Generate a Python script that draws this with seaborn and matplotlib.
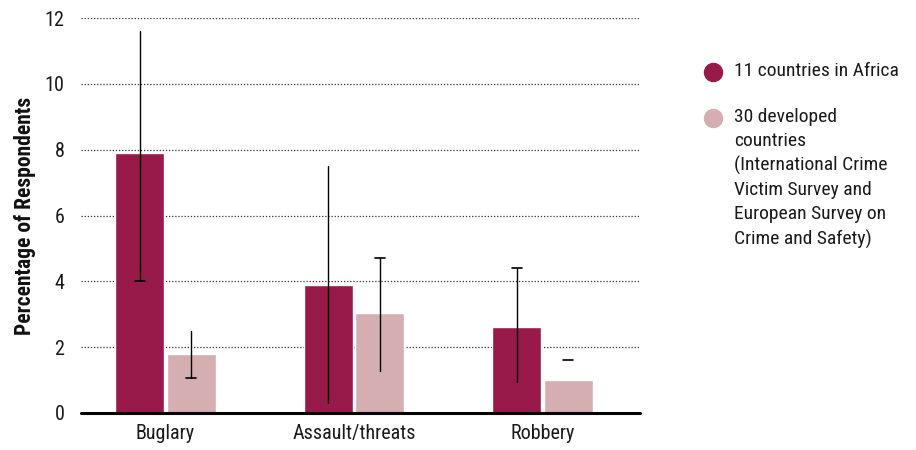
import numpy as np
import pandas as pd
import matplotlib
matplotlib.use("Agg")
import matplotlib.pyplot as plt
import seaborn as sns
from matplotlib.lines import Line2D

# Data
categories = ["Buglary", "Assault/threats", "Robbery"]
groups = ["11 countries in Africa",
          "30 developed\ncountries\n(International Crime\nVictim Survey and\nEuropean Survey on\nCrime and Safety)"]
africa = [7.9, 3.9, 2.6]
developed = [1.8, 3.05, 1.0]
africa_low = [4.0, 0.3, 0.95]
africa_high = [11.6, 7.5, 4.4]
developed_low = [1.05, 1.28, 1.6]
developed_high = [2.5, 4.7, 1.6]
# which end of each error bar carries a cap
africa_caps = ["low", "none", "high"]
developed_caps = ["low", "high", "high"]

COLORS = ["#981a4a", "#d4aeb1"]

sns.set_style("white")
plt.rcParams['font.family'] = ['Roboto Condensed', 'DejaVu Sans']
plt.rcParams['font.stretch'] = 'condensed'

df = pd.DataFrame({
    "category": categories * 2,
    "group": [groups[0]] * 3 + [groups[1]] * 3,
    "value": africa + developed,
})

fig = plt.figure(figsize=(9.16, 4.5), dpi=100)
ax = fig.add_axes([81 / 916, 1 - 413 / 450, (640 - 81) / 916, (413 - 18) / 450])

sns.barplot(data=df, x="category", y="value", hue="group", order=categories,
            hue_order=groups, palette=COLORS, width=0.545, gap=0.045,
            saturation=1, errorbar=None, legend=False, ax=ax)

# error bars, placed at the centres of the drawn bars
bars = sorted(ax.patches, key=lambda p: p.get_x())
centers = [b.get_x() + b.get_width() / 2 for b in bars]
lows = [v for pair in zip(africa_low, developed_low) for v in pair]
highs = [v for pair in zip(africa_high, developed_high) for v in pair]
caps = [v for pair in zip(africa_caps, developed_caps) for v in pair]
capw = 0.027
for x, lo, hi, cp in zip(centers, lows, highs, caps):
    if hi > lo:
        ax.plot([x, x], [lo, hi], color="black", lw=1.0, zorder=4)
    if cp in ("low", "both"):
        ax.plot([x - capw, x + capw], [lo, lo], color="black", lw=1.2, zorder=4)
    if cp in ("high", "both"):
        ax.plot([x - capw, x + capw], [hi, hi], color="black", lw=1.2, zorder=4)

ax.set_ylim(0, 12)
ax.set_xlim(-0.448, 2.517)
ax.set_yticks(np.arange(0, 13, 2))
ax.yaxis.grid(True, linestyle=(0, (1, 1.5)), color="#333333", lw=0.9)
ax.set_axisbelow(True)
ax.axhline(0, color="black", lw=2.2, zorder=5, clip_on=False)
for s in ["left", "right", "top", "bottom"]:
    ax.spines[s].set_visible(False)
ax.tick_params(axis="both", length=0, labelsize=14.5, colors="#1a1a1a")
ax.tick_params(axis="y", pad=12)
ax.tick_params(axis="x", pad=8)
ax.set_xlabel("")
ax.set_ylabel("Percentage of Respondents", fontsize=15.5, fontweight="bold",
              labelpad=6, color="#111111")

# legend drawn by hand so the marker sits on the first text line
legend_y = [1 - 72 / 450, 1 - 118 / 450]
for c, label, y in zip(COLORS, groups, legend_y):
    fig.add_artist(Line2D([713 / 916], [y], marker="o", linestyle="", markersize=13,
                          markerfacecolor=c, markeredgecolor=c, transform=fig.transFigure))
    fig.text(734 / 916, y + 10 / 450, label, fontsize=14, color="#1a1a1a", va="top",
             linespacing=1.42, transform=fig.transFigure)

fig.savefig("out.png", dpi=100)
